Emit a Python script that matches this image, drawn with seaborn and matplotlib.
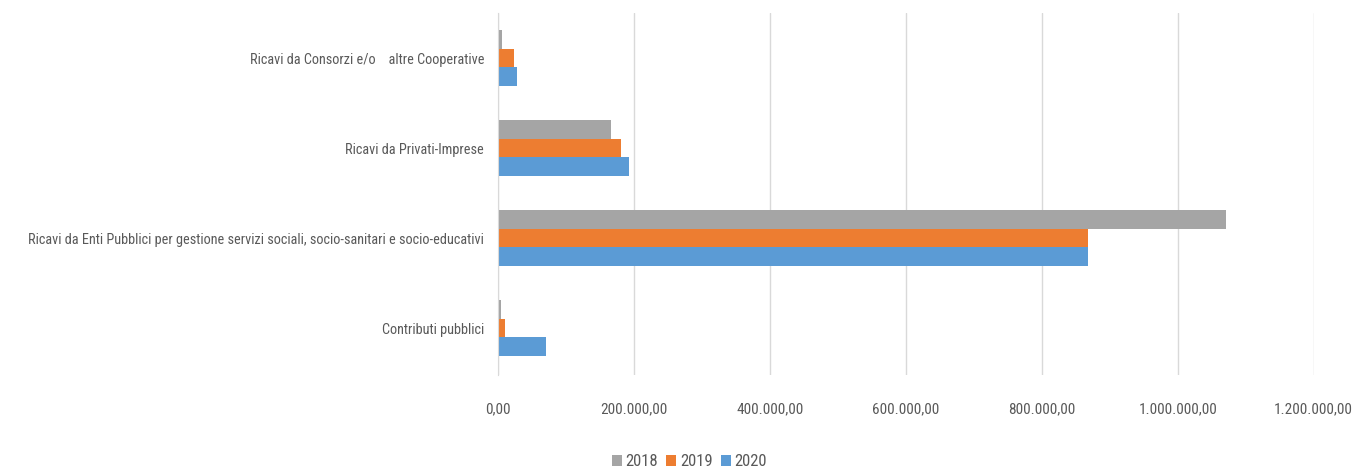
import matplotlib
matplotlib.use("Agg")
import matplotlib.pyplot as plt
from matplotlib.ticker import FuncFormatter, MultipleLocator
import pandas as pd
import seaborn as sns

categories = [
    "Ricavi da Consorzi e/o    altre Cooperative",
    "Ricavi da Privati-Imprese",
    "Ricavi da Enti Pubblici per gestione servizi sociali, socio-sanitari e socio-educativi",
    "Contributi pubblici",
]
years = ["2018", "2019", "2020"]
values_2018 = [6300, 166000, 1070600, 4900]
values_2019 = [23500, 180400, 867600, 10700]
values_2020 = [27500, 192000, 867600, 70600]
colors = ["#a5a5a5", "#ed7d31", "#5b9bd5"]

df = pd.DataFrame({
    "categoria": categories * 3,
    "anno": [y for y in years for _ in categories],
    "valore": values_2018 + values_2019 + values_2020,
})

sns.set_style("white")
plt.rcParams["font.family"] = ["Roboto Condensed", "Carlito", "DejaVu Sans"]

fig = plt.figure(figsize=(13.57, 4.68), dpi=100)
ax = fig.add_axes([0.367, 0.199, 0.601, 0.773])

sns.barplot(data=df, y="categoria", x="valore", hue="anno", hue_order=years,
            palette=colors, orient="h", width=0.62, saturation=1, ax=ax,
            linewidth=0, legend=True)

def it_fmt(v, pos):
    # formato italiano: 1.200.000,00
    s = f"{v:,.2f}"
    return s.replace(",", "X").replace(".", ",").replace("X", ".")

ax.set_xlim(0, 1200000)
ax.set_ylim(3.52, -0.5)
ax.xaxis.set_major_locator(MultipleLocator(200000))
ax.xaxis.set_major_formatter(FuncFormatter(it_fmt))
ax.grid(axis="x", color="#d9d9d9", linewidth=1)
ax.set_axisbelow(True)
for s in ["top", "right", "bottom"]:
    ax.spines[s].set_visible(False)
ax.spines["left"].set_color("#d9d9d9")
ax.tick_params(axis="x", length=0, pad=20, labelsize=11, labelcolor="#595959")
ax.tick_params(axis="y", length=0, pad=10, labelsize=10.3, labelcolor="#595959")
ax.set_xlabel("")
ax.set_ylabel("")

handles, labels = ax.get_legend_handles_labels()
ax.get_legend().remove()
fig.legend(handles, labels, loc="lower center", bbox_to_anchor=(0.508, -0.035),
           ncol=3, frameon=False, fontsize=12, handlelength=0.6, handleheight=0.7,
           handletextpad=0.2, columnspacing=0.5, labelcolor="#595959")

fig.savefig("out.png", dpi=100)
